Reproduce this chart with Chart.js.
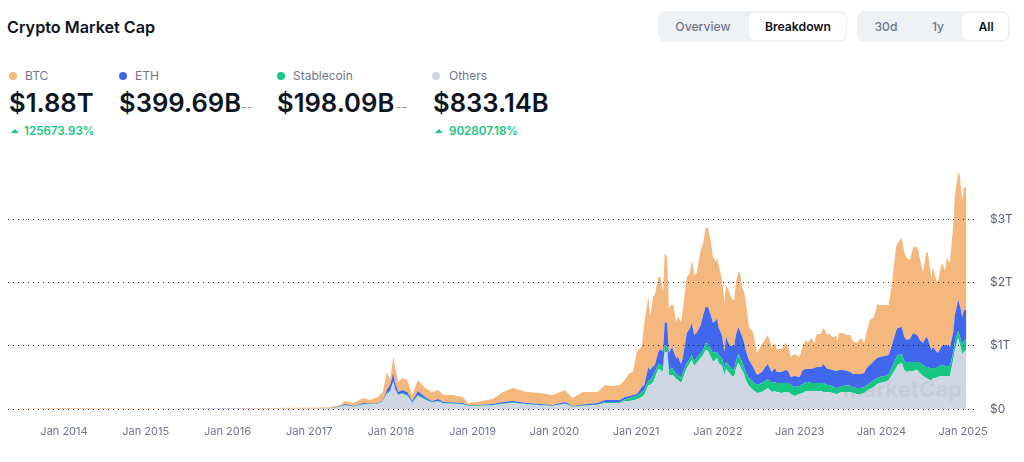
<!DOCTYPE html>
<html>
<head>
<meta charset="utf-8">
<title>Crypto Market Cap</title>
<script src="https://cdn.jsdelivr.net/npm/chart.js@4"></script>
<style>
    html, body { margin: 0; padding: 0; background: #fff; }
    body { width: 1024px; height: 462px; position: relative; overflow: hidden; font-family: Inter, sans-serif; color: #0d1421; }
    canvas { position: absolute; left: 0; top: 0; }
    .abs { position: absolute; white-space: nowrap; }
    #title { left: 7px; top: 17px; font-size: 16.2px; line-height: 20px; font-weight: 600; }
    .group { position: absolute; top: 11px; height: 31px; background: #eff2f5; border-radius: 8px; }
    .active { position: absolute; top: 2px; height: 27px; background: #fff; border-radius: 6px; }
    .btn { position: absolute; top: 19px; font-size: 12.2px; line-height: 16px; transform: translateX(-50%); color: #6f7689; font-weight: 500; white-space: nowrap; }
    .btn.on { color: #0d1421; font-weight: 600; }
    .dot { position: absolute; top: 72px; width: 8px; height: 8px; border-radius: 50%; }
    .name { position: absolute; top: 68px; font-size: 12px; line-height: 16px; color: #6f7689; white-space: nowrap; }
    .val { position: absolute; top: 88px; font-size: 25.6px; line-height: 30px; font-weight: 600; white-space: nowrap; }
    .dash { position: absolute; top: 99px; font-size: 12px; line-height: 16px; color: #8a91a3; white-space: nowrap; }
    .pct { position: absolute; top: 123px; font-size: 11.6px; line-height: 16px; font-weight: 600; color: #16c784; white-space: nowrap; }
    .tri { position: absolute; top: 129px; width: 0; height: 0; border-left: 4px solid transparent; border-right: 4px solid transparent; border-bottom: 4px solid #16c784; }
    #mark { position: absolute; left: 843px; top: 376px; font-size: 22px; line-height: 26px; font-weight: 700; color: rgba(120, 125, 150, 0.1); z-index: 2; }
</style>
</head>
<body>
<div id="title" class="abs">Crypto Market Cap</div>

<div class="group" style="left:658px;width:189px"><div class="active" style="left:91px;width:97px"></div></div>
<div class="btn" style="left:703px">Overview</div>
<div class="btn on" style="left:798px">Breakdown</div>
<div class="group" style="left:857px;width:153px"><div class="active" style="left:105px;width:46px"></div></div>
<div class="btn" style="left:886px">30d</div>
<div class="btn" style="left:938px">1y</div>
<div class="btn on" style="left:986px">All</div>

<div class="dot" style="left:9px;background:#f4b87e"></div><div class="name" style="left:25px">BTC</div>
<div class="dot" style="left:119px;background:#4267ef"></div><div class="name" style="left:135px">ETH</div>
<div class="dot" style="left:277px;background:#16c784"></div><div class="name" style="left:293px">Stablecoin</div>
<div class="dot" style="left:432px;background:#d3d6e4"></div><div class="name" style="left:449px">Others</div>

<div class="val" style="left:9px">$1.88T</div>
<div class="val" style="left:119px">$399.69B</div><div class="dash" style="left:241px">--</div>
<div class="val" style="left:277px">$198.09B</div><div class="dash" style="left:396px">--</div>
<div class="val" style="left:433px">$833.14B</div>

<div class="tri" style="left:11px"></div><div class="pct" style="left:24px">125673.93%</div>
<div class="tri" style="left:435px"></div><div class="pct" style="left:449px">902807.18%</div>

<div id="mark">MarketCap</div>
<canvas id="chart" width="1024" height="462"></canvas>

<script>
// all values, in $B, dates as decimal years
const dates = [
    2013.32, 2014.00, 2015.00, 2016.00, 2016.50, 2016.90, 2017.00, 2017.25,
    2017.38, 2017.44, 2017.54, 2017.66, 2017.74, 2017.84, 2017.90, 2017.95, 2017.99, 2018.03,
    2018.05, 2018.09, 2018.14, 2018.20, 2018.26, 2018.33, 2018.42, 2018.50, 2018.58, 2018.64,
    2018.76, 2018.88, 2018.94, 2019.05, 2019.25, 2019.37, 2019.49, 2019.66, 2019.82, 2019.98,
    2020.13, 2020.22, 2020.35, 2020.53, 2020.62, 2020.70, 2020.80, 2020.86, 2020.92, 2020.96,
    2021.01, 2021.07, 2021.10, 2021.15, 2021.17, 2021.21, 2021.23, 2021.27, 2021.30, 2021.33,
    2021.35, 2021.38, 2021.40, 2021.44, 2021.46, 2021.49, 2021.51, 2021.55, 2021.57, 2021.62,
    2021.66, 2021.68, 2021.71, 2021.74, 2021.79, 2021.82, 2021.85, 2021.88, 2021.92, 2021.94,
    2021.98, 2021.99, 2022.01, 2022.05, 2022.08, 2022.10, 2022.14, 2022.17, 2022.20, 2022.22,
    2022.25, 2022.27, 2022.30, 2022.32, 2022.34, 2022.38, 2022.43, 2022.48, 2022.54, 2022.58,
    2022.61, 2022.66, 2022.70, 2022.72, 2022.78, 2022.83, 2022.86, 2022.89, 2022.94, 2023.00,
    2023.04, 2023.08, 2023.10, 2023.14, 2023.18, 2023.21, 2023.26, 2023.29, 2023.34, 2023.36,
    2023.40, 2023.45, 2023.46, 2023.48, 2023.53, 2023.58, 2023.62, 2023.65, 2023.70, 2023.75,
    2023.79, 2023.82, 2023.86, 2023.91, 2023.95, 2023.98, 2024.04, 2024.09, 2024.13, 2024.18,
    2024.20, 2024.25, 2024.28, 2024.31, 2024.35, 2024.39, 2024.44, 2024.47, 2024.51, 2024.55,
    2024.57, 2024.61, 2024.63, 2024.67, 2024.69, 2024.74, 2024.78, 2024.80, 2024.84, 2024.88,
    2024.90, 2024.94, 2024.96, 2024.99, 2025.01, 2025.04
];
const others = [
    0.2, 1, 1, 1, 3, 3, 2, 5,
    32, 55, 32, 71, 71, 79, 111, 237, 269, 427,
    301, 221, 237, 206, 95, 206, 142, 103, 119, 87,
    79, 71, 47, 47, 55, 79, 95, 71, 55, 47,
    79, 32, 47, 63, 95, 95, 95, 127, 127, 134,
    150, 190, 221, 380, 380, 427, 490, 633, 617, 585,
    902, 902, 538, 538, 522, 475, 459, 411, 475, 649,
    728, 775, 680, 728, 807, 854, 933, 918, 807, 744,
    791, 807, 728, 680, 538, 633, 570, 522, 506, 633,
    728, 680, 601, 554, 459, 364, 301, 253, 269, 301,
    332, 269, 285, 269, 253, 269, 269, 237, 206, 237,
    253, 285, 285, 285, 285, 285, 285, 269, 269, 269,
    253, 237, 237, 253, 269, 269, 269, 253, 237, 237,
    253, 285, 316, 348, 396, 411, 427, 459, 538, 649,
    696, 728, 617, 585, 601, 601, 617, 570, 522, 490,
    475, 443, 490, 490, 506, 522, 522, 522, 522, 775,
    933, 1123, 1028, 870, 902, 933
];
const stablecoin = [
    0, 0, 0, 0, 0, 0, 0, 0,
    8, 8, 8, 8, 8, 8, 8, 16, 16, 16,
    16, 8, 16, 16, 8, 16, 16, 8, 8, 8,
    8, 8, 8, 8, 8, 8, 8, 8, 8, 5,
    8, 8, 8, 8, 16, 16, 16, 24, 47, 55,
    55, 79, 79, 79, 79, 111, 95, 79, 95, 79,
    111, 79, 79, 111, 95, 79, 79, 79, 95, 79,
    79, 79, 79, 79, 79, 79, 111, 111, 127, 142,
    111, 95, 127, 127, 111, 111, 111, 111, 111, 111,
    142, 142, 127, 111, 127, 127, 127, 127, 142, 142,
    142, 142, 142, 142, 158, 142, 142, 142, 142, 127,
    142, 142, 142, 127, 127, 127, 127, 142, 111, 111,
    111, 95, 95, 95, 95, 111, 95, 95, 95, 95,
    95, 95, 95, 111, 95, 95, 95, 95, 127, 158,
    158, 142, 142, 142, 142, 142, 127, 158, 174, 174,
    190, 190, 158, 158, 158, 174, 158, 158, 142, 127,
    127, 111, 127, 142, 174, 174
];
const eth = [
    0, 0, 0, 1, 1, 1, 1, 3,
    8, 16, 8, 16, 8, 8, 8, 47, 95, 127,
    95, 40, 47, 47, 24, 63, 32, 16, 32, 16,
    16, 16, 8, 8, 16, 24, 24, 16, 16, 13,
    24, 8, 16, 24, 32, 32, 32, 40, 32, 32,
    32, 79, 79, 206, 158, 142, 111, 190, 237, 237,
    364, 380, 269, 332, 285, 253, 285, 221, 237, 475,
    475, 506, 411, 396, 443, 554, 570, 585, 522, 475,
    506, 538, 427, 364, 253, 396, 332, 364, 380, 427,
    427, 411, 411, 396, 348, 285, 237, 158, 174, 221,
    237, 174, 221, 174, 174, 206, 190, 127, 174, 142,
    221, 206, 206, 221, 237, 253, 253, 301, 253, 253,
    253, 269, 269, 269, 253, 221, 221, 206, 221, 221,
    221, 269, 285, 301, 316, 316, 316, 301, 348, 427,
    427, 427, 380, 364, 364, 459, 427, 364, 348, 475,
    443, 301, 332, 269, 221, 301, 332, 332, 316, 316,
    427, 490, 490, 443, 490, 459
];
const btc = [
    1.5, 10, 4, 6.5, 10, 14, 16, 20,
    16, 48, 48, 79, 55, 95, 142, 285, 79, 269,
    253, 158, 190, 190, 95, 174, 142, 142, 142, 111,
    119, 95, 32, 47, 79, 158, 206, 174, 174, 158,
    190, 127, 198, 174, 237, 221, 237, 269, 364, 364,
    664, 649, 981, 1107, 838, 1107, 1107, 1187, 1139, 949,
    1092, 1044, 712, 680, 712, 570, 649, 664, 759, 886,
    870, 997, 949, 949, 1187, 1139, 1250, 1250, 1139, 1044,
    918, 965, 997, 870, 791, 823, 838, 744, 728, 823,
    870, 918, 775, 791, 791, 522, 554, 348, 443, 443,
    459, 396, 396, 364, 364, 427, 396, 316, 348, 316,
    396, 459, 411, 490, 396, 522, 522, 570, 538, 570,
    522, 554, 443, 585, 585, 570, 585, 522, 490, 570,
    475, 570, 712, 696, 854, 823, 807, 791, 981, 1329,
    1345, 1408, 1345, 1297, 1250, 1361, 1392, 1297, 1123, 1345,
    1361, 1139, 1266, 1123, 1123, 1313, 1187, 1376, 1329, 1693,
    1898, 2009, 2057, 1851, 1946, 1930
];
const yTicks = [0, 1000, 2000, 3000];
const yLabels = ['$0', '$1T', '$2T', '$3T'];

const mutedColor = '#6f7689';
Chart.defaults.font.family = 'Inter';

var makeSeries = function (label, values, color, fill) {
    return {
        label: label,
        data: values.map((v, i) => ({ x: dates[i], y: v })),
        backgroundColor: color,
        borderWidth: 0,
        pointRadius: 0,
        tension: 0,
        fill: fill
    };
}

new Chart(document.querySelector('#chart').getContext('2d'), {
    type: 'line',
    data: {
        datasets: [
            makeSeries('Others', others, '#cfd6e4', 'origin'),
            makeSeries('Stablecoin', stablecoin, '#16c784', '-1'),
            makeSeries('ETH', eth, '#4267ef', '-1'),
            makeSeries('BTC', btc, '#f4b87e', '-1')
        ]
    },
    options: {
        responsive: false,
        animation: false,
        layout: { padding: { left: 8, top: 162.5 } },
        plugins: { legend: { display: false }, tooltip: { enabled: false } },
        scales: {
            x: {
                type: 'linear',
                min: 2013.315,
                max: 2025.146,
                grid: { display: false },
                border: { display: false },
                afterFit: scale => { scale.height = 53; },
                ticks: {
                    stepSize: 1,
                    includeBounds: false,
                    autoSkip: false,
                    maxRotation: 0,
                    padding: 8,
                    color: mutedColor,
                    font: { size: 11 },
                    callback: value => 'Jan ' + value
                }
            },
            y: {
                position: 'right',
                stacked: true,
                min: 0,
                max: 3900,
                border: { display: false, dash: [1, 4] },
                grid: { color: '#222', drawTicks: false, z: 1 },
                afterBuildTicks: scale => { scale.ticks = yTicks.map(v => ({ value: v })); },
                afterFit: scale => { scale.width = 49; },
                ticks: {
                    padding: 15,
                    crossAlign: 'near',
                    color: '#5a6072',
                    font: { size: 12 },
                    callback: value => yLabels[yTicks.indexOf(value)]
                }
            }
        }
    }
});
</script>
</body>
</html>
